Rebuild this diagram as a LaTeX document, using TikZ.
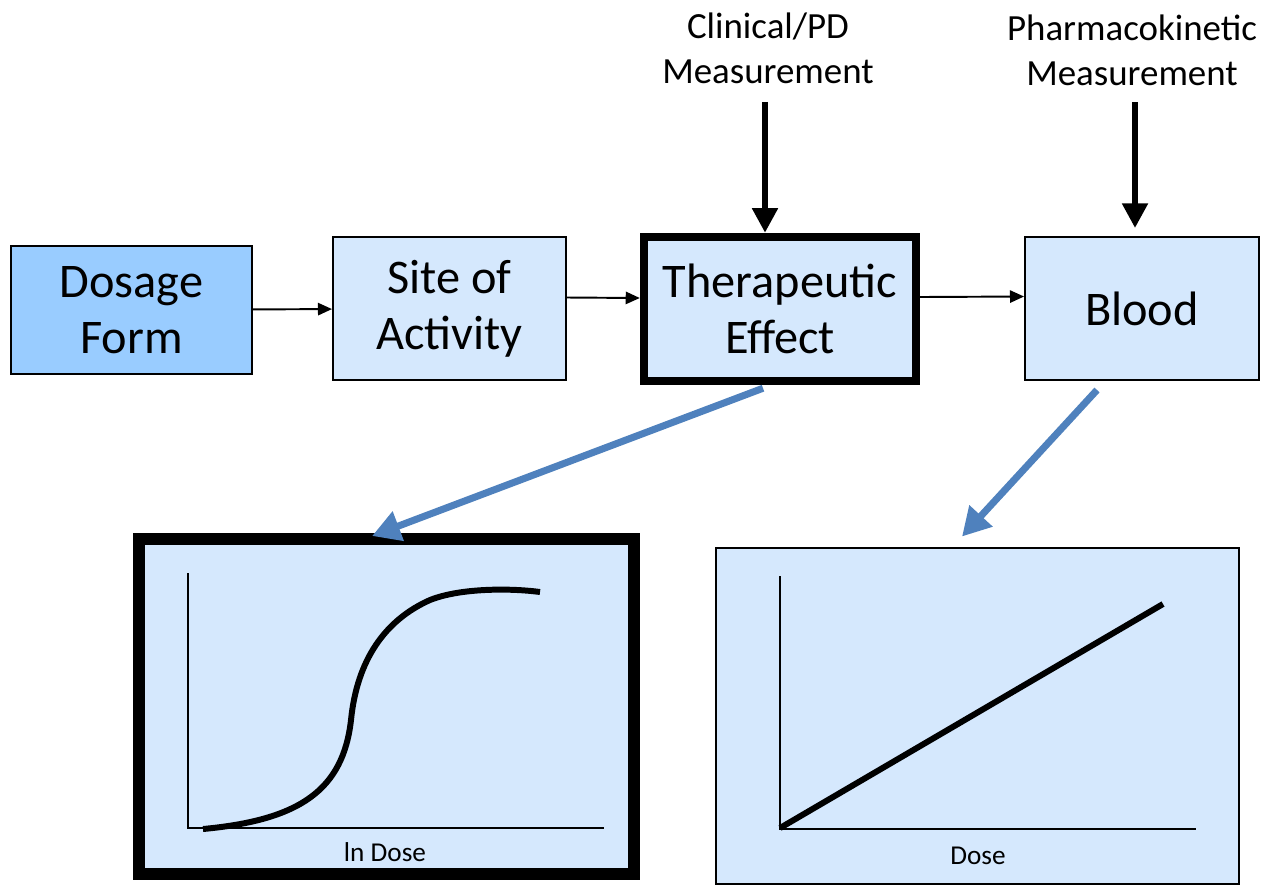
\documentclass[tikz,border=0pt]{standalone}
\usepackage{fontspec}
\setmainfont{Carlito}
\usetikzlibrary{calc}
\usetikzlibrary{arrows.meta}
\definecolor{formblue}{RGB}{153,204,255}
\definecolor{boxblue}{RGB}{213,232,253}
\definecolor{linkblue}{RGB}{79,129,189}
\tikzset{
	align=center,
	stage/.style={
		draw,
		rectangle,
		fill=boxblue,
		line width=1.1pt,
		inner sep=0pt,
		font=\fontsize{27.5}{32}\selectfont
	},
	focus/.style={line width=4.8pt},
	chart/.style={
		draw,
		rectangle,
		fill=boxblue,
		line width=1.1pt,
		inner sep=0pt
	},
	flow/.style={
		line width=1.1pt,
		-{Triangle[length=8pt,width=7pt]}
	},
	measure/.style={
		line width=3.4pt,
		-{Triangle[length=14pt,width=14pt]}
	},
	zoomin/.style={
		linkblue,
		line width=4pt,
		-{Triangle[length=16pt,width=17pt]}
	},
	axis/.style={line width=1.1pt},
	curve/.style={line width=3.4pt, line join=round},
	lbl/.style={font=\fontsize{21}{25.6}\selectfont},
	axlbl/.style={font=\fontsize{15.5}{18}\selectfont},
}

\begin{document}
\begin{tikzpicture}[x=0.2mm, y=-0.2mm]
		\useasboundingbox (0,0) rectangle (1262,884);

		\node[stage, fill=formblue, minimum width=48.2mm, minimum height=25.6mm] (dosage) at (131.5,310) {Dosage\\Form};
		\node[stage, minimum width=46.6mm, minimum height=28.6mm] (site) at (449.5,308.5) {Site of\\Activity};
		\node[stage, focus, minimum width=54.4mm, minimum height=28.8mm] (ther) at (780,309) {Therapeutic\\Effect};
		\node[stage, minimum width=46.8mm, minimum height=28.6mm] (blood) at (1142,308.5) {Blood};

		\node[lbl] (clin) at (768,48) {Clinical/PD\\Measurement};
		\node[lbl] (pk) at (1132,50) {Pharmacokinetic\\Measurement};

		\draw[flow] (dosage) -- (site);
		\draw[flow] ($(site.east)+(0,-11)$) -- ($(ther.west)+(0,-11)$);
		\draw[flow] ($(ther.east)+(0,-12)$) -- ($(blood.west)+(0,-12)$);

		\draw[measure] ($(ther.north)+(-15,-131)$) -- ($(ther.north)+(-15,0)$);
		\draw[measure] ($(blood.north)+(-7,-134)$) -- ($(blood.north)+(-7,-8)$);

%%% dose-response charts

		\node[chart, line width=6.8pt, minimum width=99mm, minimum height=67mm] (effchart) at (386.5,706.5) {};
		\node[chart, minimum width=104.6mm, minimum height=67.2mm] (bloodchart) at (977.5,716) {};

		\draw[zoomin] ($(ther.south)+(-17,3)$) -- ($(effchart.north)+(-14.5,3)$);
		\draw[zoomin] ($(blood.south)+(-45,9)$) -- ($(bloodchart.north)+(-15.5,-10.5)$);

		\draw[axis] (188,573) -- (188,828) -- (604,828);
		\draw[curve] (203,829) .. controls (300,820) and (343,790) .. (351,720)
			.. controls (357,660) and (385,620) .. (430,600)
			.. controls (460,588) and (510,588) .. (540,592);
		\node[axlbl] (lnlabel) at (385,852) {ln Dose};

		\draw[axis] (780,576) -- (780,829) -- (1196,829);
		\draw[curve] (780,828) -- (1163,604);
		\node[axlbl] (doselabel) at (978,856) {Dose};

	\end{tikzpicture}
\end{document}
